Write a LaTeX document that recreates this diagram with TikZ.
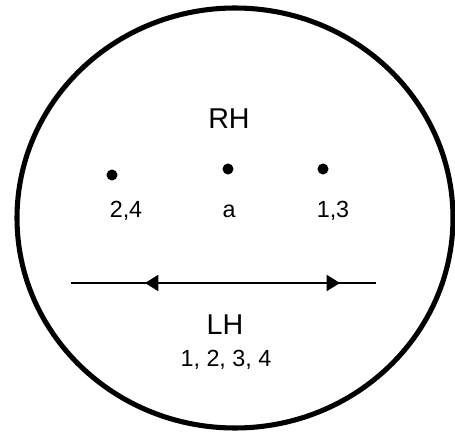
\documentclass[tikz,border=0pt]{standalone}
\usepackage{fontspec}
\setmainfont{Liberation Sans}
\usepackage{tikz}
\usetikzlibrary{arrows.meta,positioning}

\begin{document}
\begin{tikzpicture}[
  x=0.75pt, y=-0.75pt,
  big/.style={font=\fontsize{21.5}{24}\selectfont, inner sep=0pt},
  lbl/.style={font=\fontsize{17.5}{20}\selectfont, inner sep=0pt},
  dot/.style={circle, fill, inner sep=0pt, minimum size=8.3pt},
  arr/.style={{Triangle[length=10pt,width=12pt]}-{Triangle[length=10pt,width=12pt]}, line width=1.5pt}
]
\useasboundingbox (0,0) rectangle (455,432);
\draw[line width=3.8pt] (235,218) ellipse [x radius=218, y radius=210];
\node[big] (rh) at (229,119) {RH};
\node[dot] (d24) at (112,175) {};
\node[dot] (da) at (228,169) {};
\node[dot] (d13) at (323,169) {};
\node[lbl] (l24) at (126,211) {2,4};
\node[lbl] (la) at (229,211) {a};
\node[lbl] (l13) at (333,211) {1,3};
\coordinate (lend) at (71,283);
\coordinate (rend) at (376,283);
\coordinate (ltip) at (145,283);
\coordinate (rtip) at (340,283);
\draw[line width=1.1pt] (lend) -- (rend);
\draw[arr] (ltip) -- (rtip);
\node[big] (lh) at (225,325) {LH};
\node[lbl] (nums) at (226,360) {1, 2, 3, 4};
\end{tikzpicture}
\end{document}
